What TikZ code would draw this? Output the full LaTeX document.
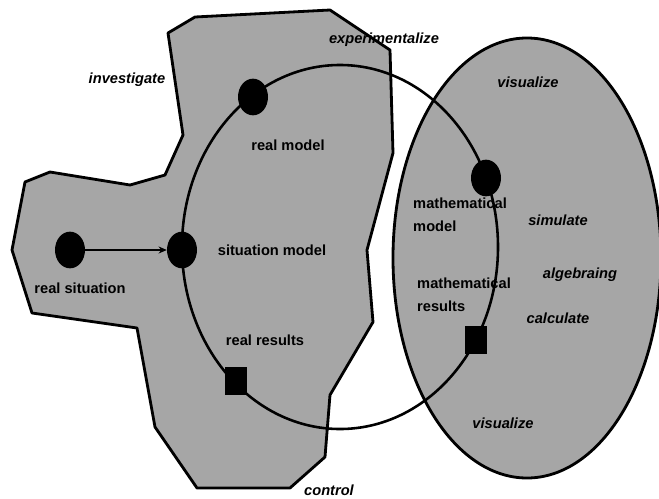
\documentclass[tikz,border=0pt]{standalone}
\usepackage{fontspec}
\setmainfont{Liberation Sans}
\usetikzlibrary{arrows.meta,shapes.geometric}
\definecolor{regiongray}{RGB}{166,166,166}
\begin{document}
\begin{tikzpicture}[x=0.03cm, y=-0.03cm, line join=round,
    every node/.style={font=\bfseries\fontsize{12.5}{20}\selectfont, inner sep=0pt},
    act/.style={font=\bfseries\itshape\fontsize{12.5}{20}\selectfont},
    stage/.style={ellipse, fill=black, minimum width=0.9cm, minimum height=1.1cm},
    result/.style={rectangle, fill=black, minimum width=0.68cm, minimum height=0.82cm},
    region/.style={fill=regiongray, draw=black, line width=2.4pt}]
      \useasboundingbox (0,0) rectangle (659,499);

      % real world and mathematical world
      \draw[region] (168,33) -- (195,17) -- (330,10) -- (390,50) -- (393,153)
        -- (367,250) -- (373,322) -- (330,395) -- (325,457) -- (290,488)
        -- (197,488) -- (155,427) -- (137,328) -- (32,313) -- (12,250)
        -- (25,182) -- (50,172) -- (130,185) -- (165,175) -- (183,135) -- cycle;
      \draw[region] (527,258) ellipse [x radius=4.02cm, y radius=6.6cm];

      % modelling cycle
      \draw[line width=2.2pt] (340,247) ellipse [x radius=4.74cm, y radius=5.46cm];

      \node[stage] (rs) at (70,250) {};
      \node[stage] (sm) at (182,250) {};
      \node[stage] (rm) at (253,97) {};
      \node[stage] (mm) at (486,178) {};
      \node[result] (rr) at (236,381) {};
      \node[result] (mr) at (476,340) {};

      \draw[line width=0.9pt, -{Stealth[length=7pt, width=6pt]}] (rs) -- (sm);

      \node (lrs) at (80,288) {real situation};
      \node (lsm) at (272,250) {situation model};
      \node (lrm) at (288,145) {real model};
      \node (lrr) at (265,340) {real results};
      \node[anchor=west, align=left] (lmm) at (413,215) {mathematical\\model};
      \node[anchor=west, align=left] (lmr) at (417,295) {mathematical\\results};

      \node[act] (a1) at (127,80) {investigate};
      \node[act] (a2) at (384,40) {experimentalize};
      \node[act] (a3) at (528,82) {visualize};
      \node[act] (a4) at (558,220) {simulate};
      \node[act] (a5) at (580,275) {algebraing};
      \node[act] (a6) at (558,318) {calculate};
      \node[act] (a7) at (503,423) {visualize};
      \node[act] (a8) at (329,490) {control};

    \end{tikzpicture}
\end{document}
